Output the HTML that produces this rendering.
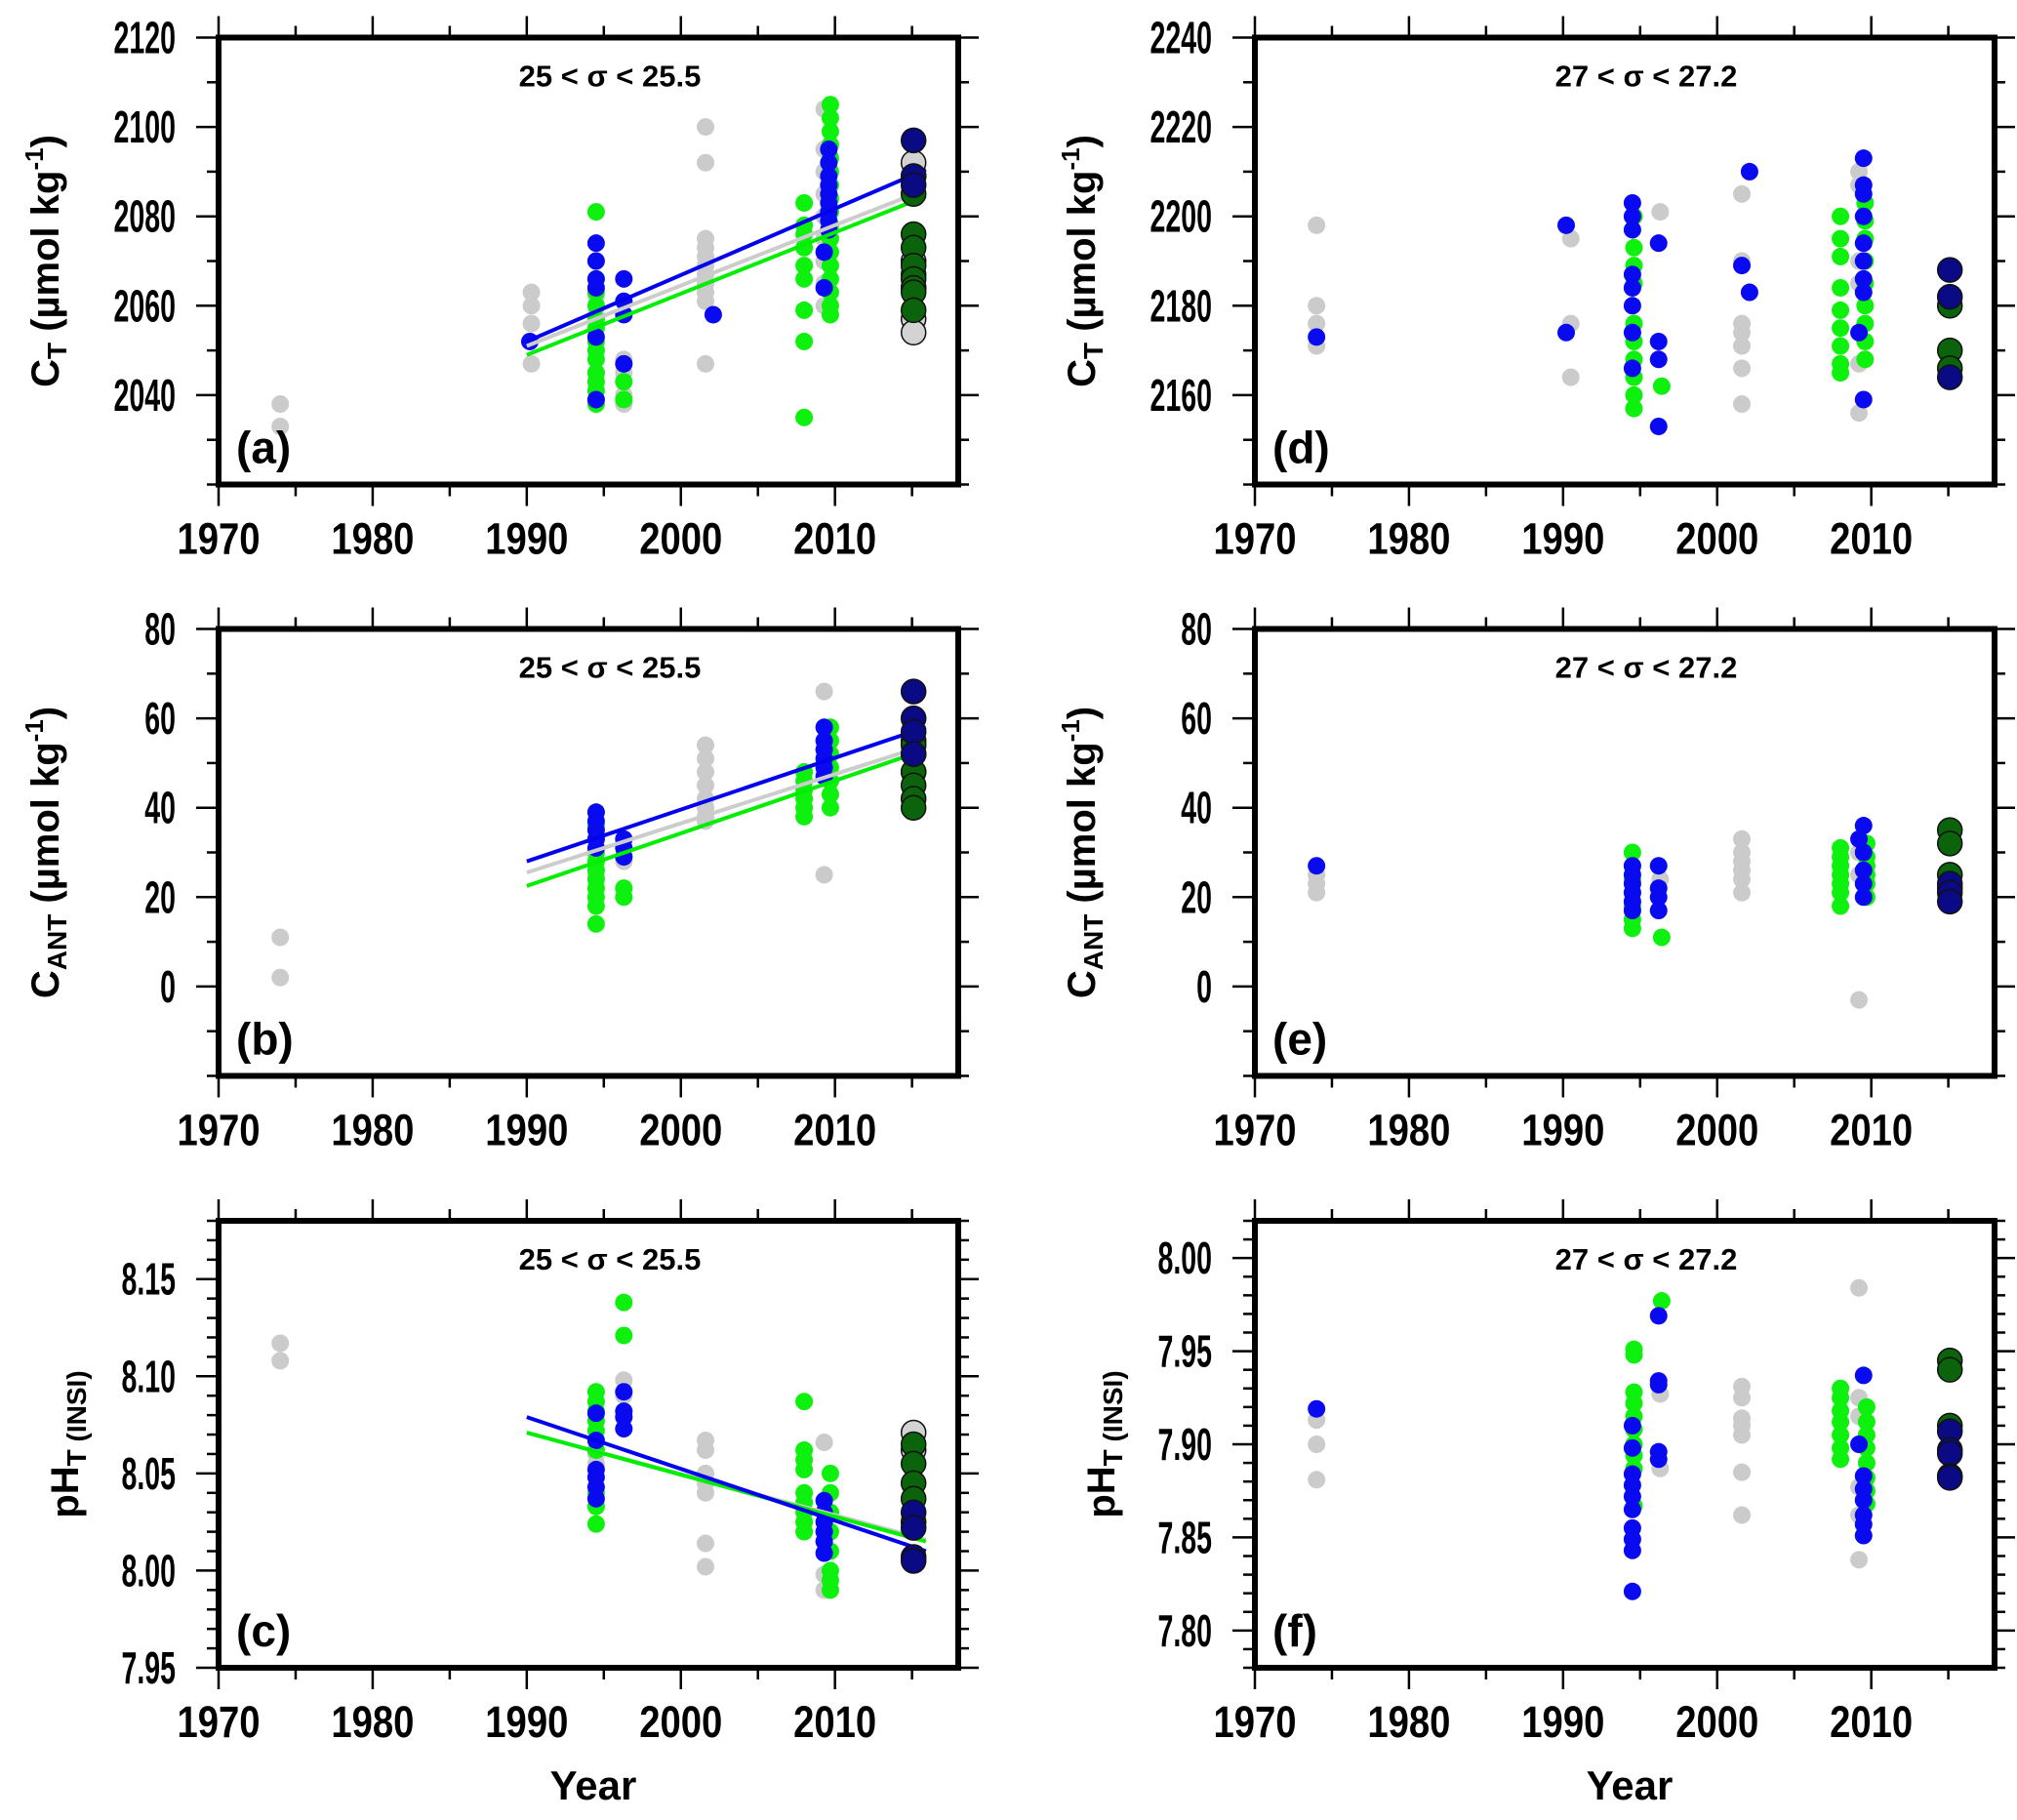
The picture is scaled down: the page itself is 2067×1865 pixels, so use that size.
<!DOCTYPE html>
<html><head><meta charset="utf-8"><style>
html,body{margin:0;padding:0;background:#fff;}
svg{display:block;font-family:"Liberation Sans",sans-serif;font-weight:bold;}
</style></head><body>
<svg id="fig" xmlns="http://www.w3.org/2000/svg" width="2067" height="1865" viewBox="0 0 2067 1865"></svg>
<script>
// ---- data: clusters [year, [values...]] ----
const aGray=[[1974,[2038,2033]],[1990.3,[2063,2060,2056,2047]],[1994.5,[2058,2062,2045]],[1996.3,[2048,2045,2040,2038]],[2001.6,[2100,2092,2075,2073,2071,2069,2067,2065,2063,2061,2047]],[2009.3,[2104,2095,2090,2085,2080,2075,2070,2065,2060]]];
const aGreen=[[1994.5,[2081,2066,2063,2060,2057,2055,2052,2050,2048,2045,2043,2041,2039,2038]],[1996.3,[2043,2039]],[2008,[2083,2078,2076,2073,2069,2066,2059,2052,2035]],[2009.7,[2105,2102,2099,2096,2093,2090,2087,2084,2081,2078,2075,2072,2069,2066,2063,2060,2058]]];
const aBlue=[[1990.2,[2052]],[1994.5,[2074,2070,2066,2064,2053,2039]],[1996.3,[2066,2061,2058,2047]],[2002.1,[2058]],[2009.3,[2072,2064]],[2009.6,[2095,2092,2089,2087,2085,2083,2081,2079,2077]]];
const aBigGray=[[2015.1,[2092,2089,2070,2067,2064,2057,2054]]];
const aBigGreen=[[2015.1,[2085,2076,2073,2069,2066,2064,2063,2059]]];
const aBigNavy=[[2015.1,[2097,2089,2087]]];
const aFitBlue=[2052,2090.5], aFitGray=[2051,2086], aFitGreen=[2049,2084.5];

const bGray=[[1974,[11,2]],[1994.5,[30,25]],[1996.3,[33,28]],[2001.6,[54,51,48,45,42,40,38,37]],[2009.3,[66,25,50,48]]];
const bGreen=[[1994.5,[39,36,33,30,28,26,24,22,20,18,14]],[1996.3,[22,20]],[2008,[48,46,44,42,40,38]],[2009.7,[58,55,52,49,46,43,40]]];
const bBlue=[[1994.5,[39,37,35,33,31]],[1996.3,[33,31,29]],[2009.3,[58,55,53,51,49,47]]];
const bBigGray=[[2015.1,[55,52,48]]];
const bBigGreen=[[2015.1,[54,48,45,42,40]]];
const bBigNavy=[[2015.1,[66,60,57,52]]];
const bFitBlue=[28,58], bFitGray=[25.5,54], bFitGreen=[22.5,53];

const cGray=[[1974,[8.117,8.108]],[1994.5,[8.060,8.055]],[1996.3,[8.098,8.090]],[2001.6,[8.067,8.062,8.050,8.045,8.040,8.014,8.002]],[2009.3,[8.066,7.998,7.990]]];
const cGreen=[[1994.5,[8.092,8.087,8.082,8.077,8.072,8.067,8.062,8.040,8.033,8.024]],[1996.3,[8.138,8.121]],[2008,[8.087,8.062,8.057,8.052,8.040,8.035,8.030,8.025,8.020]],[2009.7,[8.050,8.040,8.030,8.020,8.010,8.000,7.995,7.990]]];
const cBlue=[[1994.5,[8.081,8.067,8.052,8.048,8.043,8.037]],[1996.3,[8.092,8.082,8.079,8.073]],[2009.3,[8.036,8.030,8.025,8.020,8.015,8.009]]];
const cBigGray=[[2015.1,[8.071,8.062]]];
const cBigGreen=[[2015.1,[8.065,8.055,8.045,8.037,8.025]]];
const cBigNavy=[[2015.1,[8.030,8.022,8.007,8.005]]];
const cFitBlue=[8.079,8.010], cFitGray=[8.071,8.016], cFitGreen=[8.071,8.015];

const dGray=[[1974,[2198,2180,2176,2171]],[1990.5,[2195,2176,2164]],[1996.3,[2201]],[2001.6,[2205,2190,2176,2174,2171,2166,2158]],[2009.2,[2210,2207,2190,2185,2167,2156]]];
const dGreen=[[1994.6,[2200,2193,2189,2185,2176,2172,2168,2164,2160,2157]],[1996.4,[2162]],[2008,[2200,2195,2191,2184,2179,2175,2171,2167,2165]],[2009.6,[2203,2199,2195,2190,2185,2180,2176,2172,2168]]];
const dBlue=[[1974,[2173]],[1990.2,[2198,2174]],[1994.5,[2203,2200,2197,2187,2184,2180,2174,2166]],[1996.2,[2194,2172,2168,2153]],[2001.6,[2189]],[2002.1,[2210,2183]],[2009.2,[2174]],[2009.5,[2213,2207,2205,2200,2194,2190,2186,2183,2159]]];
const dBigGray=[];
const dBigGreen=[[2015.1,[2180,2170,2166]]];
const dBigNavy=[[2015.1,[2188,2182,2164]]];

const eGray=[[1974,[25,23,21]],[1996.3,[24]],[2001.6,[33,30,28,26,24,21]],[2009.2,[-3,30,25]]];
const eGreen=[[1994.5,[30,27,24,21,18,15,13]],[1996.4,[11]],[2008,[31,29,27,25,23,21,18]],[2009.7,[32,29,27,25,23,20]]];
const eBlue=[[1974,[27]],[1994.5,[27,25,23,21,19,17]],[1996.2,[27,22,20,17]],[2009.2,[33]],[2009.5,[36,30,26,23,20]]];
const eBigGray=[];
const eBigGreen=[[2015.1,[35,32,25,22]]];
const eBigNavy=[[2015.1,[23,21,19]]];

const fGray=[[1974,[7.913,7.900,7.881]],[1996.3,[7.927,7.887]],[2001.6,[7.931,7.925,7.914,7.910,7.905,7.885,7.862]],[2009.2,[7.984,7.925,7.915,7.877,7.862,7.838]]];
const fGreen=[[1994.6,[7.951,7.948,7.928,7.922,7.915,7.908,7.900,7.894,7.887,7.867]],[1996.4,[7.977]],[2008,[7.930,7.925,7.918,7.912,7.905,7.898,7.892]],[2009.7,[7.920,7.912,7.905,7.898,7.890,7.882,7.875,7.868]]];
const fBlue=[[1974,[7.919]],[1994.5,[7.910,7.898,7.884,7.878,7.872,7.865,7.855,7.849,7.843,7.821]],[1996.2,[7.969,7.934,7.932,7.896,7.892]],[2009.2,[7.900]],[2009.5,[7.937,7.883,7.876,7.870,7.862,7.857,7.851]]];
const fBigGray=[];
const fBigGreen=[[2015.1,[7.945,7.940,7.910]]];
const fBigNavy=[[2015.1,[7.907,7.897,7.895,7.883,7.882]]];

const yearTicks=[1970,1980,1990,2000,2010];
const aTicks=[2040,2060,2080,2100,2120];
const bTicks=[0,20,40,60,80];
const cTicks=[7.95,8.00,8.05,8.10,8.15];
const dTicks=[2160,2180,2200,2220,2240];
const fTicks=[7.80,7.85,7.90,7.95,8.00];
const fitYears=[1990,2015.9];

const NS="http://www.w3.org/2000/svg";
const svg=document.getElementById('fig');
function el(tag,attrs,parent,txt){const e=document.createElementNS(NS,tag);for(const k in attrs)e.setAttribute(k,attrs[k]);if(txt!==undefined)e.textContent=txt;(parent||svg).appendChild(e);return e;}
function squeeze(t,f){const w=t.getComputedTextLength();if(w>0){t.setAttribute('textLength',(w*f).toFixed(1));t.setAttribute('lengthAdjust','spacingAndGlyphs');}}

const panels=[
 {id:'a',x0:224,y0:38.5,ylim:[2020,2120],ticks:aTicks,minor:10,fmt:v=>v,title:'25 < σ < 25.5',ylab:'ct',gray:aGray,green:aGreen,blue:aBlue,bg:aBigGray,bgr:aBigGreen,bn:aBigNavy,fits:[[aFitGreen,'#00ee00'],[aFitGray,'#cccccc'],[aFitBlue,'#0000ee']]},
 {id:'b',x0:224,y0:644.5,ylim:[-20,80],ticks:bTicks,minor:10,fmt:v=>v,title:'25 < σ < 25.5',ylab:'cant',gray:bGray,green:bGreen,blue:bBlue,bg:bBigGray,bgr:bBigGreen,bn:bBigNavy,fits:[[bFitGreen,'#00ee00'],[bFitGray,'#cccccc'],[bFitBlue,'#0000ee']]},
 {id:'c',x0:224,y0:1251,ylim:[7.95,8.18],ticks:cTicks,minor:0.01,fmt:v=>v.toFixed(2),title:'25 < σ < 25.5',ylab:'ph',xlab:true,gray:cGray,green:cGreen,blue:cBlue,bg:cBigGray,bgr:cBigGreen,bn:cBigNavy,fits:[[cFitGray,'#cccccc'],[cFitGreen,'#00ee00'],[cFitBlue,'#0000ee']]},
 {id:'d',x0:1286,y0:38.5,ylim:[2140,2240],ticks:dTicks,minor:10,fmt:v=>v,title:'27 < σ < 27.2',ylab:'ct',gray:dGray,green:dGreen,blue:dBlue,bg:dBigGray,bgr:dBigGreen,bn:dBigNavy,fits:[]},
 {id:'e',x0:1286,y0:644.5,ylim:[-20,80],ticks:bTicks,minor:10,fmt:v=>v,title:'27 < σ < 27.2',ylab:'cant',gray:eGray,green:eGreen,blue:eBlue,bg:eBigGray,bgr:eBigGreen,bn:eBigNavy,fits:[]},
 {id:'f',x0:1286,y0:1251,ylim:[7.78,8.02],ticks:fTicks,minor:0.01,fmt:v=>v.toFixed(2),title:'27 < σ < 27.2',ylab:'ph',xlab:true,gray:fGray,green:fGreen,blue:fBlue,bg:fBigGray,bgr:fBigGreen,bn:fBigNavy,fits:[]}
];
const PW=758,PH=458,XMIN=1970,XMAX=2018;

panels.forEach(p=>{
 const g=el('g',{});
 
 
 const xs=yr=>p.x0+(yr-XMIN)/(XMAX-XMIN)*PW;
 const ys=v=>p.y0+(p.ylim[1]-v)/(p.ylim[1]-p.ylim[0])*PH;
 const L=p.x0,R=p.x0+PW,T=p.y0,B=p.y0+PH;
 for(let yr=1970;yr<=2015;yr+=5){
  const maj=yr%10===0, len=maj?22:12, x=xs(yr);
  const t1=el('line',{x1:x,y1:T,x2:x,y2:T-len,stroke:'#000','stroke-width':2.5},g);
  
  
  const t2=el('line',{x1:x,y1:B,x2:x,y2:B+len,stroke:'#000','stroke-width':2.5},g);
  
  
 }
 yearTicks.forEach(yr=>{
  const t=el('text',{x:xs(yr),y:B+71,'font-size':45,'text-anchor':'middle'},g,String(yr));
  
  
  squeeze(t,0.85);
 });
 const step=p.minor, n=Math.round((p.ylim[1]-p.ylim[0])/step);
 for(let i=0;i<=n;i++){
  const v=p.ylim[0]+i*step; const y=ys(v);
  const maj=p.ticks.some(t=>Math.abs(t-v)<step/10);
  const t1=el('line',{x1:L,y1:y,x2:L-(maj?23:12),y2:y,stroke:'#000','stroke-width':2.5},g);
  
  
  const t2=el('line',{x1:R,y1:y,x2:R+(maj?21:11),y2:y,stroke:'#000','stroke-width':2.5},g);
  
  
 }
 p.ticks.forEach(v=>{
  const t=el('text',{x:L-44,y:ys(v)+16,'font-size':46,'text-anchor':'end'},g,String(p.fmt(v)));
  
  
  squeeze(t,0.62);
 });
 const cp=el('clipPath',{id:'clip'+p.id},g);
 el('rect',{x:L,y:T,width:PW,height:PH},cp);
 const pg=el('g',{'clip-path':'url(#clip'+p.id+')'},g);
 const dots=(arr,color,name,r,stroke)=>{
  arr.forEach(c=>c[1].forEach(v=>{
   const d=el('circle',{cx:xs(c[0]),cy:ys(v),r:r,fill:color},pg);
   if(stroke){d.setAttribute('stroke','#111');d.setAttribute('stroke-width',1.5);}
   
   
  }));
 };
 dots(p.gray,'#cbcbcb','point-gray',9);
 dots(p.green,'#0ef00e','point-green',9);
 dots(p.blue,'#0a0af0','point-blue',9);
 p.fits.forEach(f=>{
  const ln=el('line',{x1:xs(fitYears[0]),y1:ys(f[0][0]),x2:xs(fitYears[1]),y2:ys(f[0][1]),stroke:f[1],'stroke-width':4},pg);
  
  
 });
 dots(p.bg,'#d3d3d3','point-2015-gray',12.5,true);
 dots(p.bgr,'#0b640b','point-2015-green',12.5,true);
 dots(p.bn,'#0a0a85','point-2015-navy',12.5,true);
 const fr=el('rect',{x:L,y:T,width:PW,height:PH,fill:'none',stroke:'#000','stroke-width':6},g);
 
 
 const ti=el('text',{x:L+401,y:T+50,'font-size':31,'text-anchor':'middle'},g,p.title);
 
 
 const pl=el('text',{x:L+18,y:B-22,'font-size':46},g,'('+p.id+')');
 
 
 const cx=L-164, cy=(T+B)/2;
 const yt=el('text',{x:0,y:0,'font-size':40,'text-anchor':'middle',transform:'translate('+cx+','+cy+') rotate(-90)'},g);
 
 
 if(p.ylab==='ct'){
  el('tspan',{},yt,'C');el('tspan',{'font-size':28,dy:8},yt,'T');
  el('tspan',{dy:-8},yt,' (µmol kg');el('tspan',{'font-size':26,dy:-16},yt,'-1');el('tspan',{dy:16},yt,')');
 } else if(p.ylab==='cant'){
  el('tspan',{},yt,'C');el('tspan',{'font-size':28,dy:8},yt,'ANT');
  el('tspan',{dy:-8},yt,' (µmol kg');el('tspan',{'font-size':26,dy:-16},yt,'-1');el('tspan',{dy:16},yt,')');
 } else {
  yt.setAttribute('transform','translate('+(cx+20)+','+cy+') rotate(-90)');
  el('tspan',{},yt,'pH');el('tspan',{'font-size':28,dy:8},yt,'T (INSI)');
 }
 if(p.xlab){
  const xl=el('text',{x:L+384,y:B+135,'font-size':42,'text-anchor':'middle'},g,'Year');
  
  
 }
});
</script>
</body></html>
